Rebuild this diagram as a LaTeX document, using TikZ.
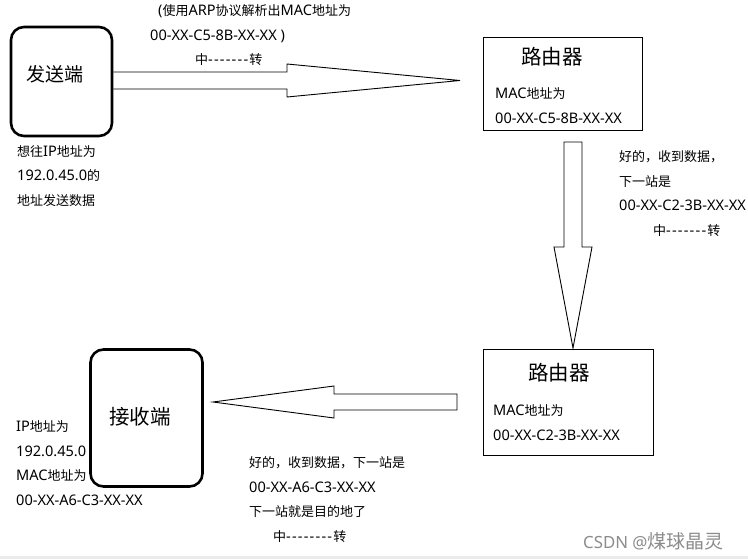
\documentclass[tikz,border=0pt]{standalone}
\usepackage{fontspec}
\setmainfont{Noto Sans}[Scale=1.12]
\newfontfamily\cjk{Noto Sans CJK SC}
\usetikzlibrary{positioning}
\newcommand\relayline[1]{{\cjk 中}\foreach\k in {1,...,#1}{\mbox{-}\kern1.2pt}{\cjk 转}}
\tikzset{hostbox/.style={draw,line width=2.6pt,rounded corners=13pt,inner sep=0pt},
 routerbox/.style={draw,line width=1.1pt,inner sep=0pt},
 blockarrow/.style={draw,line width=0.9pt,line join=miter},
 title/.style={font=\cjk\fontsize{20.5}{24}\selectfont,inner sep=0pt},
 note/.style={anchor=north west,inner sep=0pt,align=left,font=\fontsize{13}{24.6}\selectfont}}

\begin{document}
\begin{tikzpicture}[x=1pt,y=-1pt]
\fill[white] (0,0) rectangle (748,559);
\useasboundingbox (0,0) rectangle (748,559);
\fill[black!8] (0,556) rectangle (748,559);

% hosts and routers
\node[hostbox,minimum width=101pt,minimum height=109pt] (sender) at (61.5,81.5) {};
\node[title,font=\cjk\fontsize{19}{22}\selectfont] (sendertitle) at (55.5,74) {发送端};
\node[hostbox,minimum width=112pt,minimum height=137pt] (receiver) at (146.5,418) {};
\node[title] (receivertitle) at (140,417) {接收端};
\node[routerbox,minimum width=159pt,minimum height=93pt] (router1) at (563,84) {};
\node[title] (router1title) at (552,57) {路由器};
\node[routerbox,minimum width=170pt,minimum height=106pt] (router2) at (568.5,402.5) {};
\node[title] (router2title) at (559,373) {路由器};

% texts
\node[note] (sendernote) at (17,145)
{{\cjk 想往}IP{\cjk 地址为}\\192.0.45.0{\cjk 的}\\{\cjk 地址发送数据}};
\node[note] (arpnote) at (150,4.5)
{\hspace*{8pt}({\cjk 使用}ARP{\cjk 协议解析出}MAC{\cjk 地址为}\\00-XX-C5-8B-XX-XX )\\\hspace*{45pt}\relayline{7}};
\node[note] (router1mac) at (495,87.5) {MAC{\cjk 地址为}\\00-XX-C5-8B-XX-XX};
\node[note] (hop1note) at (619,150.5)
{{\cjk 好的，收到数据，}\\{\cjk 下一站是}\\00-XX-C2-3B-XX-XX\\\hspace*{34pt}\relayline{7}};
\node[note] (router2mac) at (493,404.5) {MAC{\cjk 地址为}\\00-XX-C2-3B-XX-XX};
\node[note] (receivernote) at (16,420.5)
{IP{\cjk 地址为}\\192.0.45.0\\MAC{\cjk 地址为}\\00-XX-A6-C3-XX-XX};
\node[note] (hop2note) at (249,456.5)
{{\cjk 好的，收到数据，下一站是}\\00-XX-A6-C3-XX-XX\\{\cjk 下一站就是目的地了}\\\hspace*{24pt}\relayline{8}};
\node[anchor=west,inner sep=0pt,text=black!45,font=\fontsize{15}{18}\selectfont] (mark) at (583,541)
{CSDN @{\cjk\fontsize{19}{22}\selectfont 煤球晶灵}};

% block arrows
\coordinate (tipA) at (460,80.5);
\coordinate (tipB) at (573,348);
\coordinate (tipC) at (213,402);
\draw[blockarrow] ([yshift=9.5pt]sender.east) -- (287,72) -- (287,64) -- (tipA)
 -- (287,97) -- (287,89) -- ([yshift=-7.5pt]sender.east);
\draw[blockarrow] (564,142) -- (582,142) -- (582,247) -- (592,247) -- (tipB)
 -- (554,247) -- (564,247) -- cycle;
\draw[blockarrow] (457,394) -- (457,410) -- (334,410) -- (334,418) -- (tipC)
 -- (334,386) -- (334,394) -- cycle;
\end{tikzpicture}
\end{document}
